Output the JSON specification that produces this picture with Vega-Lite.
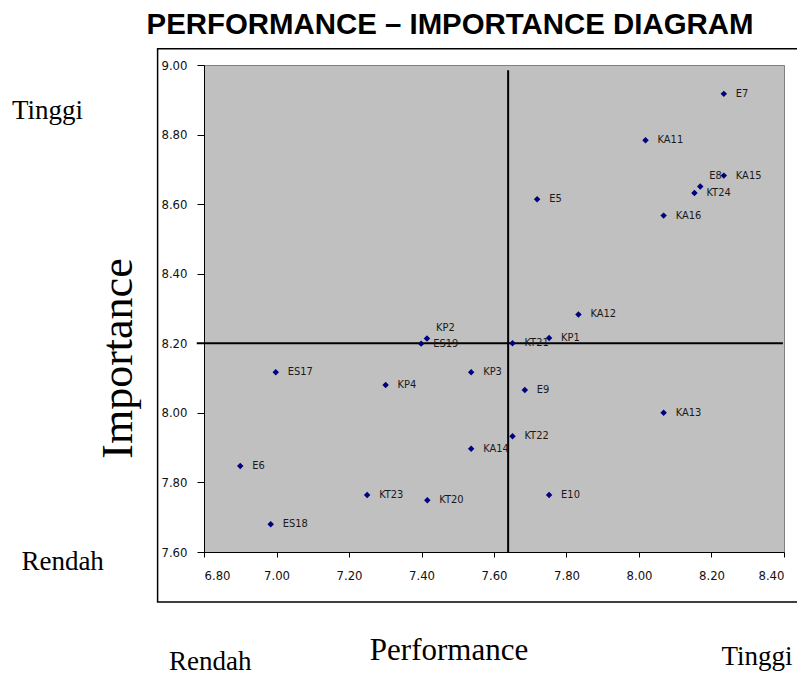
{
  "$schema": "https://vega.github.io/schema/vega-lite/v6.json",
  "width": 580,
  "height": 487,
  "autosize": {"type": "none"},
  "padding": {"left": 204, "top": 65, "right": 13, "bottom": 125},
  "background": "white",
  "title": {
    "text": "PERFORMANCE – IMPORTANCE DIAGRAM",
    "font": "Liberation Sans",
    "fontSize": 29.4,
    "fontWeight": "bold",
    "color": "black",
    "anchor": "middle",
    "frame": "group",
    "dx": -44,
    "offset": 8
  },
  "config": {
    "view": {"fill": "#c0c0c0", "stroke": "#808080", "strokeWidth": 1},
    "axis": {
      "grid": false,
      "domainColor": "black",
      "tickColor": "black",
      "labelColor": "#111111",
      "labelFont": "DejaVu Sans Condensed, Liberation Sans Narrow, Liberation Sans",
      "labelFontSize": 13,
      "titleFont": "Liberation Serif",
      "titleFontWeight": "normal",
      "titleColor": "black"
    }
  },
  "datasets": {
    "points": [
      {"code": "E7", "performance": 8.234, "importance": 8.917},
      {"code": "KA11", "performance": 8.018, "importance": 8.784},
      {"code": "KA15", "performance": 8.234, "importance": 8.682},
      {"code": "E8", "performance": 8.169, "importance": 8.651},
      {"code": "KT24", "performance": 8.153, "importance": 8.632},
      {"code": "E5", "performance": 7.719, "importance": 8.614},
      {"code": "KA16", "performance": 8.068, "importance": 8.567},
      {"code": "KA12", "performance": 7.833, "importance": 8.283},
      {"code": "KP1", "performance": 7.752, "importance": 8.215},
      {"code": "KT21", "performance": 7.651, "importance": 8.2},
      {"code": "KP3", "performance": 7.537, "importance": 8.117},
      {"code": "E9", "performance": 7.685, "importance": 8.066},
      {"code": "KA13", "performance": 8.068, "importance": 8.0},
      {"code": "KT22", "performance": 7.651, "importance": 7.933},
      {"code": "KA14", "performance": 7.537, "importance": 7.897},
      {"code": "E10", "performance": 7.752, "importance": 7.764},
      {"code": "KP2", "performance": 7.415, "importance": 8.214},
      {"code": "ES19", "performance": 7.399, "importance": 8.199},
      {"code": "ES17", "performance": 6.998, "importance": 8.117},
      {"code": "KP4", "performance": 7.301, "importance": 8.08},
      {"code": "E6", "performance": 6.9, "importance": 7.847},
      {"code": "KT23", "performance": 7.25, "importance": 7.764},
      {"code": "KT20", "performance": 7.416, "importance": 7.749},
      {"code": "ES18", "performance": 6.984, "importance": 7.68}
    ],
    "quadrants": [
      {"x1": 6.78, "x2": 8.397, "y1": 8.2, "y2": 8.2},
      {"x1": 7.639, "x2": 7.639, "y1": 7.6, "y2": 8.985}
    ],
    "frame": [
      {"x1": 6.672, "x2": 8.45, "y1": 9.047, "y2": 7.456}
    ],
    "annotations": [
      {"label": "Tinggi", "performance": 6.368, "importance": 8.845},
      {"label": "Rendah", "performance": 6.41, "importance": 7.548},
      {"label": "Rendah", "performance": 6.817, "importance": 7.26},
      {"label": "Tinggi", "performance": 8.3255, "importance": 7.275}
    ]
  },
  "layer": [
    {
      "data": {"name": "frame"},
      "mark": {"type": "rect", "fill": "transparent", "stroke": "black", "strokeWidth": 1.5},
      "encoding": {
        "x": {"field": "x1", "type": "quantitative", "scale": {"domain": [6.8, 8.4], "nice": false, "zero": false},
          "axis": {
            "values": [6.8, 7.0, 7.2, 7.4, 7.6, 7.8, 8.0, 8.2, 8.4],
            "format": ".2f",
            "tickSize": 5,
            "labelPadding": 12,
            "title": "Performance",
            "titleFontSize": 31,
            "titleX": 244.5,
            "titleY": 107,
            "titleBaseline": "alphabetic",
            "titleAlign": "center"
          }
        },
        "x2": {"field": "x2"},
        "y": {"field": "y1", "type": "quantitative", "scale": {"domain": [7.6, 9.0], "nice": false, "zero": false},
          "axis": {
            "values": [7.6, 7.8, 8.0, 8.2, 8.4, 8.6, 8.8, 9.0],
            "format": ".2f",
            "tickSize": 7,
            "labelPadding": 10,
            "title": "Importance",
            "titleFontSize": 44,
            "titleX": -73,
            "titleY": 293,
            "titleAngle": 270,
            "titleBaseline": "alphabetic",
            "titleAlign": "center"
          }
        },
        "y2": {"field": "y2"}
      }
    },
    {
      "data": {"name": "quadrants"},
      "mark": {"type": "rule", "color": "black", "strokeWidth": 2},
      "encoding": {
        "x": {"field": "x1", "type": "quantitative"},
        "x2": {"field": "x2"},
        "y": {"field": "y1", "type": "quantitative"},
        "y2": {"field": "y2"}
      }
    },
    {
      "data": {"name": "points"},
      "mark": {"type": "point", "shape": "diamond", "filled": true, "color": "#000080", "size": 42, "opacity": 1},
      "encoding": {
        "x": {"field": "performance", "type": "quantitative"},
        "y": {"field": "importance", "type": "quantitative"}
      }
    },
    {
      "data": {"name": "points"},
      "transform": [{"filter": "datum.code !== 'KP2' && datum.code !== 'E8'"}],
      "mark": {"type": "text", "align": "left", "baseline": "middle", "dx": 12, "font": "DejaVu Sans Condensed, Liberation Sans Narrow, Liberation Sans", "fontSize": 11, "color": "#1a1a1a"},
      "encoding": {
        "x": {"field": "performance", "type": "quantitative"},
        "y": {"field": "importance", "type": "quantitative"},
        "text": {"field": "code"}
      }
    },
    {
      "data": {"name": "points"},
      "transform": [{"filter": "datum.code === 'KP2' || datum.code === 'E8'"}],
      "mark": {"type": "text", "align": "left", "baseline": "middle", "dx": 9, "dy": -10, "font": "DejaVu Sans Condensed, Liberation Sans Narrow, Liberation Sans", "fontSize": 11, "color": "#1a1a1a"},
      "encoding": {
        "x": {"field": "performance", "type": "quantitative"},
        "y": {"field": "importance", "type": "quantitative"},
        "text": {"field": "code"}
      }
    },
    {
      "data": {"name": "annotations"},
      "mark": {"type": "text", "align": "center", "baseline": "alphabetic", "font": "Liberation Serif", "fontSize": 27, "color": "black"},
      "encoding": {
        "x": {"field": "performance", "type": "quantitative"},
        "y": {"field": "importance", "type": "quantitative"},
        "text": {"field": "label"}
      }
    }
  ]
}
